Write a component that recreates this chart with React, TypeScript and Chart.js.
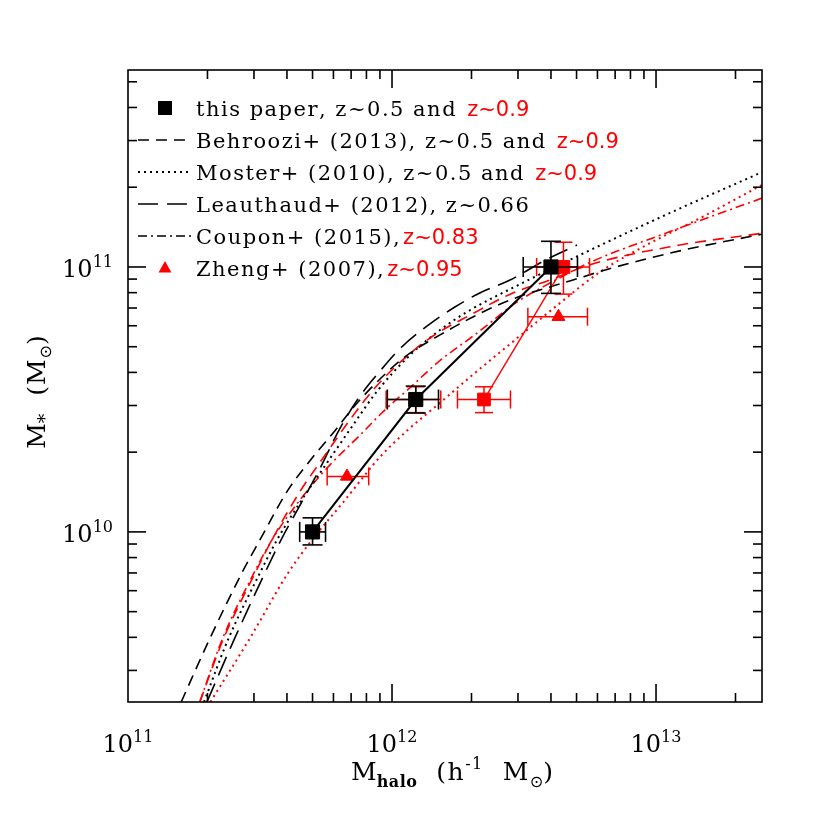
import React, { useEffect, useRef } from 'react';
import { Chart, registerables } from 'chart.js';

Chart.register(...registerables);

// ---------- axis ranges ----------
const X_MIN = 1e11;
const X_MAX = 2.52e13;
const Y_MIN = 2.28e9;
const Y_MAX = 5.54e11;
const xTickDecades = [11, 12, 13];
const yTickDecades = [9, 10, 11];
const xLabelDecades = [11, 12, 13];
const yLabelDecades = [10, 11];

// ---------- model curves ----------
const behroozi05X = [1.59e11, 2.03e11, 2.70e11, 3.16e11, 4.04e11, 4.98e11, 6.08e11, 7.24e11, 8.77e11, 1.12e12, 1.52e12, 2.06e12, 2.80e12, 4.85e12, 6.81e12, 1.23e13, 2.52e13];
const behroozi05Y = [2.28e9, 3.91e9, 7.00e9, 9.33e9, 1.44e10, 1.90e10, 2.41e10, 3.00e10, 3.68e10, 4.58e10, 5.54e10, 6.53e10, 7.51e10, 8.93e10, 9.91e10, 1.15e11, 1.33e11];

const behroozi09X = [1.87e11, 2.29e11, 3.03e11, 3.54e11, 4.48e11, 5.58e11, 6.93e11, 8.62e11, 1.12e12, 1.43e12, 1.98e12, 2.87e12, 3.97e12, 5.62e12, 1.23e13, 2.52e13];
const behroozi09Y = [2.28e9, 3.91e9, 7.00e9, 9.49e9, 1.42e10, 1.95e10, 2.65e10, 3.50e10, 4.54e10, 5.49e10, 6.59e10, 7.98e10, 8.93e10, 1.02e11, 1.21e11, 1.34e11];

const moster05X = [1.94e11, 2.39e11, 3.16e11, 3.67e11, 4.48e11, 5.58e11, 7.06e11, 8.77e11, 1.17e12, 1.52e12, 1.92e12, 3.14e12, 5.15e12, 1.13e13, 2.52e13];
const moster05Y = [2.28e9, 3.91e9, 7.00e9, 9.33e9, 1.29e10, 1.78e10, 2.50e10, 3.39e10, 4.65e10, 5.78e10, 6.76e10, 8.73e10, 1.11e11, 1.60e11, 2.28e11];

const moster09X = [2.05e11, 2.87e11, 4.04e11, 4.98e11, 6.64e11, 9.01e11, 1.15e12, 1.52e12, 1.98e12, 2.92e12, 4.33e12, 6.14e12, 9.49e12, 1.47e13, 2.52e13];
const moster09Y = [2.28e9, 3.91e9, 7.00e9, 9.33e9, 1.32e10, 1.92e10, 2.43e10, 3.07e10, 3.85e10, 5.30e10, 7.31e10, 9.58e10, 1.23e11, 1.53e11, 2.04e11];

const leauthaudX = [1.99e11, 2.52e11, 3.30e11, 3.80e11, 4.48e11, 5.34e11, 6.35e11, 7.57e11, 9.01e11, 1.07e12, 1.36e12, 1.73e12, 2.15e12, 2.80e12, 3.80e12, 5.02e12];
const leauthaudY = [2.28e9, 3.91e9, 7.00e9, 9.33e9, 1.26e10, 1.74e10, 2.46e10, 3.26e10, 4.05e10, 4.91e10, 5.99e10, 7.06e10, 7.98e10, 8.93e10, 1.06e11, 1.21e11];

const couponX = [1.87e11, 2.27e11, 3.00e11, 3.51e11, 4.48e11, 5.82e11, 7.57e11, 9.41e11, 1.17e12, 1.48e12, 2.10e12, 2.98e12, 3.97e12, 5.62e12, 1.13e13, 2.52e13];
const couponY = [2.28e9, 3.91e9, 7.00e9, 9.33e9, 1.32e10, 1.79e10, 2.32e10, 2.89e10, 3.50e10, 4.34e10, 5.63e10, 7.38e10, 8.70e10, 1.04e11, 1.36e11, 1.82e11];

// ---------- this paper, z~0.5 ----------
const paper05X = [5.0e11, 1.23e12, 4.0e12];
const paper05Y = [1.0e10, 3.16e10, 1.0e11];
const paper05XLo = [4.47e11, 9.6e11, 3.14e12];
const paper05XHi = [5.6e11, 1.5e12, 5.04e12];
const paper05YLo = [8.93e9, 2.81e10, 7.95e10];
const paper05YHi = [1.13e10, 3.55e10, 1.25e11];

// ---------- this paper, z~0.9 ----------
const paper09X = [2.23e12, 4.46e12];
const paper09Y = [3.16e10, 1.0e11];
const paper09XLo = [1.77e12, 3.53e12];
const paper09XHi = [2.81e12, 5.6e12];
const paper09YLo = [2.82e10, 7.9e10];
const paper09YHi = [3.53e10, 1.24e11];

// point hidden under the middle black square
const hiddenX = [1.23e12];
const hiddenY = [3.16e10];
const hiddenXLo = [9.5e11];
const hiddenXHi = [1.53e12];
const hiddenYLo = [2.82e10];
const hiddenYHi = [3.53e10];

// ---------- Zheng+ (2007) ----------
const zhengX = [6.75e11, 4.27e12];
const zhengY = [1.62e10, 6.49e10];
const zhengXLo = [5.68e11, 3.27e12];
const zhengXHi = [8.16e11, 5.5e12];

// ---------- legend ----------
const legendBlack = [
  'this paper, z~0.5 and ',
  'Behroozi+ (2013), z~0.5 and ',
  'Moster+ (2010), z~0.5 and ',
  'Leauthaud+ (2012), z~0.66',
  'Coupon+ (2015),',
  'Zheng+ (2007),',
];
const legendRed = ['z~0.9', 'z~0.9', 'z~0.9', '', 'z~0.83', 'z~0.95'];
const legendKind = ['square', 'dash', 'dot', 'longdash', 'dashdot', 'triangle'];

const BLACK = '#000000';
const RED = '#ff0000';
const SERIF = '"DejaVu Serif", serif';
const SANS = '"DejaVu Sans", sans-serif';

const DASH: Record<string, number[]> = {
  dash: [11, 7],
  dot: [2, 4],
  longdash: [20, 9],
  dashdot: [9, 4, 2, 4],
};

const zip = (xs: number[], ys: number[]) => xs.map((x, i) => ({ x, y: ys[i] }));

type EB = { color: string; width: number; cap: number; xLo?: number[]; xHi?: number[]; yLo?: number[]; yHi?: number[] };
const errorBars: Record<string, EB> = {
  paper05: { color: BLACK, width: 1.6, cap: 10, xLo: paper05XLo, xHi: paper05XHi, yLo: paper05YLo, yHi: paper05YHi },
  paper09: { color: RED, width: 1.5, cap: 9, xLo: paper09XLo, xHi: paper09XHi, yLo: paper09YLo, yHi: paper09YHi },
  hidden: { color: RED, width: 1.5, cap: 9, xLo: hiddenXLo, xHi: hiddenXHi, yLo: hiddenYLo, yHi: hiddenYHi },
  zheng: { color: RED, width: 1.5, cap: 9, xLo: zhengXLo, xHi: zhengXHi },
};

function seg(ctx: CanvasRenderingContext2D, x1: number, y1: number, x2: number, y2: number) {
  ctx.beginPath();
  ctx.moveTo(x1, y1);
  ctx.lineTo(x2, y2);
  ctx.stroke();
}

// draws text with extra spacing between characters; returns advance width
function spacedText(ctx: CanvasRenderingContext2D, t: string, x: number, y: number, sp: number, draw = true) {
  let cx = x;
  for (const ch of t) {
    if (draw) ctx.fillText(ch, cx, y);
    cx += ctx.measureText(ch).width + sp;
  }
  return cx - x;
}

const errorBarPlugin = {
  id: 'errorBars',
  beforeDatasetDraw(chart: any, args: any) {
    const ds = chart.data.datasets[args.index];
    const eb = errorBars[ds.label];
    if (!eb) return;
    const ctx = chart.ctx as CanvasRenderingContext2D;
    const xs = chart.scales.x;
    const ys = chart.scales.y;
    ctx.save();
    ctx.strokeStyle = eb.color;
    ctx.lineWidth = eb.width;
    ctx.setLineDash([]);
    ds.data.forEach((p: any, i: number) => {
      const px = xs.getPixelForValue(p.x);
      const py = ys.getPixelForValue(p.y);
      if (eb.xLo && eb.xHi) {
        const a = xs.getPixelForValue(eb.xLo[i]);
        const b = xs.getPixelForValue(eb.xHi[i]);
        seg(ctx, a, py, b, py);
        seg(ctx, a, py - eb.cap, a, py + eb.cap);
        seg(ctx, b, py - eb.cap, b, py + eb.cap);
      }
      if (eb.yLo && eb.yHi) {
        const a = ys.getPixelForValue(eb.yLo[i]);
        const b = ys.getPixelForValue(eb.yHi[i]);
        seg(ctx, px, a, px, b);
        seg(ctx, px - eb.cap, a, px + eb.cap, a);
        seg(ctx, px - eb.cap, b, px + eb.cap, b);
      }
    });
    ctx.restore();
  },
};

type Piece = { t: string; font: string; dy: number; sp?: number };
function drawPieces(ctx: CanvasRenderingContext2D, pieces: Piece[], cx: number, baseY: number) {
  let total = 0;
  for (const p of pieces) {
    ctx.font = p.font;
    total += spacedText(ctx, p.t, 0, 0, p.sp || 0, false);
  }
  let x = cx - total / 2;
  for (const p of pieces) {
    ctx.font = p.font;
    x += spacedText(ctx, p.t, x, baseY + p.dy, p.sp || 0, true);
  }
  return total;
}

const framePlugin = {
  id: 'frame',
  afterDraw(chart: any) {
    const ctx = chart.ctx as CanvasRenderingContext2D;
    const xs = chart.scales.x;
    const ys = chart.scales.y;
    const { left, right, top, bottom } = chart.chartArea;
    ctx.save();
    ctx.strokeStyle = BLACK;
    ctx.fillStyle = BLACK;
    ctx.lineWidth = 1.6;
    ctx.setLineDash([]);
    ctx.strokeRect(left, top, right - left, bottom - top);

    // ticks
    for (const d of xTickDecades) {
      for (let m = 1; m <= 9; m++) {
        const v = m * Math.pow(10, d);
        if (v <= X_MIN * 1.0001 || v >= X_MAX) continue;
        const px = xs.getPixelForValue(v);
        const len = m === 1 ? 18 : 9;
        seg(ctx, px, bottom, px, bottom - len);
        seg(ctx, px, top, px, top + len);
      }
    }
    for (const d of yTickDecades) {
      for (let m = 1; m <= 9; m++) {
        const v = m * Math.pow(10, d);
        if (v <= Y_MIN || v >= Y_MAX) continue;
        const py = ys.getPixelForValue(v);
        const len = m === 1 ? 18 : 9;
        seg(ctx, left, py, left + len, py);
        seg(ctx, right, py, right - len, py);
      }
    }

    // tick labels
    ctx.textBaseline = 'alphabetic';
    ctx.textAlign = 'left';
    const big = `24px ${SERIF}`;
    const sup = `16px ${SERIF}`;
    for (const d of xLabelDecades) {
      const px = xs.getPixelForValue(Math.pow(10, d));
      drawPieces(ctx, [
        { t: '10', font: big, dy: 0 },
        { t: String(d), font: sup, dy: -10 },
      ], px, 752);
    }
    for (const d of yLabelDecades) {
      const py = ys.getPixelForValue(Math.pow(10, d));
      ctx.font = sup;
      const w2 = ctx.measureText(String(d)).width;
      ctx.font = big;
      const w1 = ctx.measureText('10').width;
      const rx = 113;
      ctx.fillText('10', rx - w1 - w2, py + 10);
      ctx.font = sup;
      ctx.fillText(String(d), rx - w2, py);
    }

    // x title
    drawPieces(ctx, [
      { t: 'M', font: `25px ${SERIF}`, dy: 0 },
      { t: 'halo', font: `bold 16px ${SERIF}`, dy: 7, sp: 0.5 },
      { t: '  (h', font: `25px ${SERIF}`, dy: 0, sp: 1.5 },
      { t: '-1', font: `16px ${SERIF}`, dy: -11, sp: 1.5 },
      { t: '  M', font: `25px ${SERIF}`, dy: 0, sp: 1.5 },
      { t: '\u2299', font: `16px ${SANS}`, dy: 7 },
      { t: ')', font: `25px ${SERIF}`, dy: 0 },
    ], 452, 780);

    // y title
    ctx.save();
    ctx.translate(45, 392);
    ctx.rotate(-Math.PI / 2);
    drawPieces(ctx, [
      { t: 'M', font: `25px ${SERIF}`, dy: 0 },
      { t: '*', font: `19px ${SERIF}`, dy: 6 },
      { t: '  (M', font: `25px ${SERIF}`, dy: 0, sp: 1 },
      { t: '\u2299', font: `16px ${SANS}`, dy: 6 },
      { t: ')', font: `25px ${SERIF}`, dy: 0 },
    ], 0, 0);
    ctx.restore();

    // legend
    const tx = 196;
    const lx0 = 138;
    const lx1 = 191;
    const mx = 165;
    legendBlack.forEach((txt, i) => {
      const base = 116 + 32 * i;
      const my = base - 8;
      const kind = legendKind[i];
      ctx.setLineDash([]);
      if (kind === 'square') {
        ctx.fillStyle = BLACK;
        ctx.fillRect(mx - 7, my - 7, 14, 14);
      } else if (kind === 'triangle') {
        ctx.fillStyle = RED;
        ctx.beginPath();
        ctx.moveTo(mx, my - 7);
        ctx.lineTo(mx + 6.5, my + 4.5);
        ctx.lineTo(mx - 6.5, my + 4.5);
        ctx.closePath();
        ctx.fill();
      } else {
        ctx.strokeStyle = BLACK;
        ctx.lineWidth = kind === 'dot' ? 2 : 1.6;
        ctx.setLineDash(DASH[kind]);
        seg(ctx, lx0, my, lx1, my);
        ctx.setLineDash([]);
      }
      ctx.fillStyle = BLACK;
      ctx.font = `21px ${SERIF}`;
      const w = spacedText(ctx, txt, tx, base, 1.5, true);
      if (legendRed[i]) {
        ctx.fillStyle = RED;
        ctx.font = `21px ${SANS}`;
        ctx.fillText(legendRed[i], tx + w + 2, base);
      }
    });
    ctx.restore();
  },
};

function curve(label: string, xs: number[], ys: number[], color: string, dash: number[], width: number) {
  return {
    label,
    data: zip(xs, ys),
    showLine: true,
    borderColor: color,
    borderWidth: width,
    borderDash: dash,
    pointRadius: 0,
    cubicInterpolationMode: 'monotone' as const,
    order: 10,
  };
}

export default function App() {
  const ref = useRef<HTMLCanvasElement>(null);
  useEffect(() => {
    const canvas = ref.current;
    if (!canvas) return;
    const datasets: any[] = [
      {
        label: 'paper05',
        data: zip(paper05X, paper05Y),
        showLine: true,
        borderColor: BLACK,
        borderWidth: 2,
        pointStyle: 'rect',
        pointRadius: 10,
        pointBorderWidth: 1,
        pointBackgroundColor: BLACK,
        pointBorderColor: BLACK,
        order: 1,
      },
      {
        label: 'zheng',
        data: zip(zhengX, zhengY),
        showLine: false,
        pointStyle: 'triangle',
        pointRadius: 7.5,
        pointBorderWidth: 1,
        pointBackgroundColor: RED,
        pointBorderColor: RED,
        order: 3,
      },
      {
        label: 'paper09',
        data: zip(paper09X, paper09Y),
        showLine: true,
        borderColor: RED,
        borderWidth: 1.4,
        pointStyle: 'rect',
        pointRadius: 9,
        pointBorderWidth: 1,
        pointBackgroundColor: RED,
        pointBorderColor: RED,
        order: 3,
      },
      {
        label: 'hidden',
        data: zip(hiddenX, hiddenY),
        showLine: false,
        pointStyle: 'rect',
        pointRadius: 9,
        pointBorderWidth: 1,
        pointBackgroundColor: RED,
        pointBorderColor: RED,
        order: 4,
      },
      curve('behroozi05', behroozi05X, behroozi05Y, BLACK, DASH.dash, 1.6),
      curve('behroozi09', behroozi09X, behroozi09Y, RED, DASH.dash, 1.6),
      curve('moster05', moster05X, moster05Y, BLACK, DASH.dot, 2),
      curve('moster09', moster09X, moster09Y, RED, DASH.dot, 2),
      curve('leauthaud', leauthaudX, leauthaudY, BLACK, DASH.longdash, 1.6),
      curve('coupon', couponX, couponY, RED, DASH.dashdot, 1.6),
    ];
    const chart = new Chart(canvas, {
      type: 'scatter',
      data: { datasets },
      options: {
        responsive: false,
        maintainAspectRatio: false,
        devicePixelRatio: 1,
        animation: false,
        events: [],
        layout: { padding: { left: 128, top: 70, right: 68, bottom: 128 } },
        plugins: { legend: { display: false }, tooltip: { enabled: false } },
        scales: {
          x: { type: 'logarithmic', display: false, min: X_MIN, max: X_MAX },
          y: { type: 'logarithmic', display: false, min: Y_MIN, max: Y_MAX },
        },
      },
      plugins: [errorBarPlugin, framePlugin],
    } as any);
    return () => chart.destroy();
  }, []);
  return (
    <div style={{ position: 'absolute', left: 0, top: 0, width: 830, height: 830, background: '#fff' }}>
      <canvas ref={ref} width={830} height={830} style={{ display: 'block', width: 830, height: 830 }} />
    </div>
  );
}
